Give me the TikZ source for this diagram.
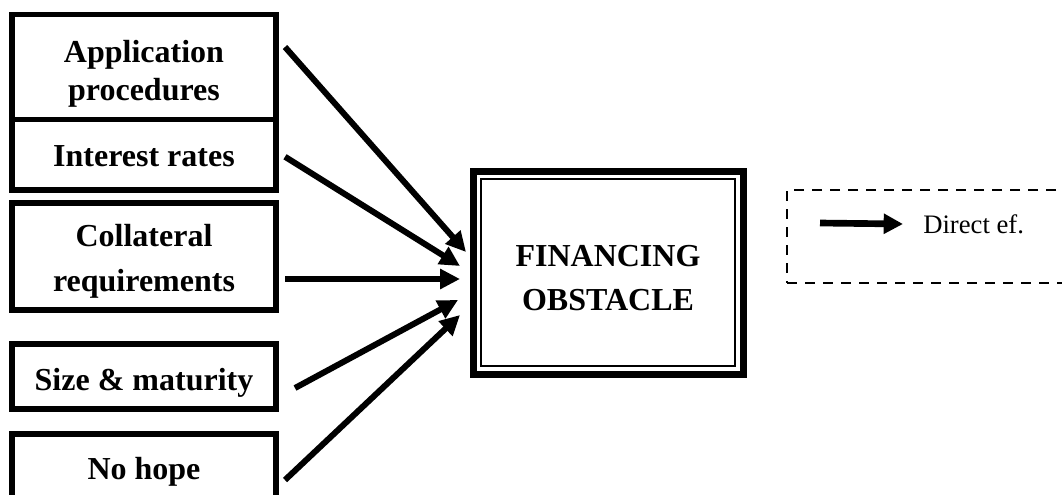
\documentclass[tikz,border=0pt]{standalone}
\usepackage{fontspec}
\setmainfont{Liberation Serif}
\usetikzlibrary{arrows.meta, positioning}
\newcommand{\dn}[2][5pt]{\raisebox{0pt}[\dimexpr\height+#1+#1\relax][\depth]{#2}}

\begin{document}
\begin{tikzpicture}[x=0.75pt, y=-0.75pt]
    \tikzstyle{factor} = [rectangle, draw=black, line width=4.1pt, minimum width=198pt, inner sep=0pt, outer sep=0pt, align=center, font=\fontsize{24}{28}\selectfont\bfseries]
    \tikzstyle{obstacle} = [rectangle, draw=black, line width=5.25pt, minimum width=202.5pt, minimum height=152.25pt, inner sep=0pt, outer sep=0pt, align=center, font=\fontsize{24}{33}\selectfont\bfseries]
    \tikzstyle{effect} = [-{Triangle[length=15pt, width=14.5pt]}, line width=4.5pt]
    \tikzstyle{legendbox} = [rectangle, draw=black, dash pattern=on 7.5pt off 6pt, line width=1.9pt, minimum width=234.75pt, minimum height=69.75pt, inner sep=0pt, outer sep=0pt]

    \useasboundingbox (0,0) rectangle (1062,494);

    \node [factor, minimum height=78.75pt] (app) at (144,67) {\dn{Application}\\procedures};
    \node [factor, minimum height=52.875pt, below=0pt of app] (rates) {\dn[1pt]{Interest rates}};
    \node [factor, minimum height=80.25pt, below=9.75pt of rates, font=\fontsize{24}{33.5}\selectfont\bfseries] (coll) {\dn[3.5pt]{Collateral}\\requirements};
    \node [factor, minimum height=48.75pt, below=25.5pt of coll] (size) {\dn{Size \& maturity}};
    \node [factor, minimum height=51pt, below=18.75pt of size] (hope) {\dn[2.5pt]{No hope}};

    \node [obstacle] (obst) at (608,272.5) {\dn[4.5pt]{FINANCING}\\OBSTACLE};
    \draw [line width=1.5pt] ([shift={(8,8)}]obst.north west) rectangle ([shift={(-8,-8)}]obst.south east);

    \draw [effect] ([shift={(9,-20)}]app.east) -- ([shift={(-7,-20.5)}]obst.west);
    \draw [effect] ([shift={(9,2)}]rates.east) -- ([shift={(-13,-6.5)}]obst.west);
    \draw [effect] ([shift={(9,22.5)}]coll.east) -- ([shift={(-13,6.5)}]obst.west);
    \draw [effect] ([shift={(19,11.5)}]size.east) -- ([shift={(-15,27.5)}]obst.west);
    \draw [effect] ([shift={(9,12)}]hope.east) -- ([shift={(-13,42.5)}]obst.west);

    \node [legendbox] (legend) at (943.5,236.5) {};
    \node [anchor=west, inner sep=0pt, font=\fontsize{20}{24}\selectfont] (direct) at ([shift={(136,-12.5)}]legend.west) {Direct ef.};
    \draw [effect, line width=5pt, -{Triangle[length=14.5pt, width=14.5pt]}] ([shift={(33,-13.5)}]legend.west) -- ([xshift=-15pt]direct.west);
\end{tikzpicture}
\end{document}
